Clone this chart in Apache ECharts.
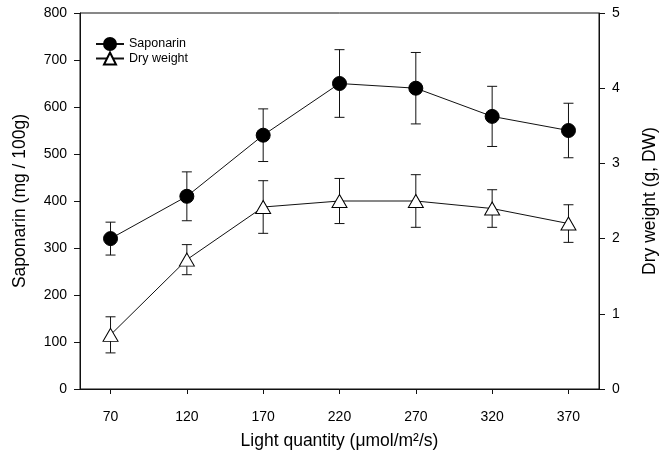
<!DOCTYPE html>
<html>
<head>
<meta charset="utf-8">
<script src="https://cdn.jsdelivr.net/npm/echarts@6/dist/echarts.min.js"></script>
<style>
  html, body { margin: 0; padding: 0; background: #fff; }
  #chart { width: 667px; height: 457px; }
</style>
</head>
<body>
<div id="chart"></div>
<script>
// 光照量 (x 轴)
var lightQty = [70, 120, 170, 220, 270, 320, 370];
// 左轴数据
var saponarin = [320, 410, 540, 650, 640, 580, 550];
var saponarinErr = [35, 52, 56, 72, 76, 64, 58];
// 右轴数据
var dryWeight = [0.72, 1.72, 2.42, 2.5, 2.5, 2.4, 2.2];
var dryWeightErr = [0.24, 0.2, 0.35, 0.3, 0.35, 0.25, 0.25];

var font = '"Liberation Sans", Arial, sans-serif';
var ink = '#111';

function pairs(ys) {
    return lightQty.map(function (x, i) { return [x, ys[i]]; });
}
function errRows(ys, es) {
    return lightQty.map(function (x, i) { return [x, ys[i] - es[i], ys[i] + es[i]]; });
}
// 误差线
function renderErr(params, api) {
    var lo = api.coord([api.value(0), api.value(1)]);
    var hi = api.coord([api.value(0), api.value(2)]);
    var w = 5;
    var st = { stroke: ink, lineWidth: 1 };
    return {
        type: 'group',
        children: [
            { type: 'line', shape: { x1: lo[0], y1: lo[1], x2: hi[0], y2: hi[1] }, style: st },
            { type: 'line', shape: { x1: lo[0] - w, y1: lo[1], x2: lo[0] + w, y2: lo[1] }, style: st },
            { type: 'line', shape: { x1: hi[0] - w, y1: hi[1], x2: hi[0] + w, y2: hi[1] }, style: st }
        ]
    };
}

var axisCommon = {
    axisLine: { show: true, lineStyle: { color: ink, width: 1 } },
    axisTick: { show: true, inside: false, length: 6, lineStyle: { color: ink } },
    splitLine: { show: false },
    nameLocation: 'middle',
    nameTextStyle: { fontFamily: font, fontSize: 17.5, color: '#000' }
};

var myChart = echarts.init(document.getElementById('chart'));
var option = {
    backgroundColor: '#fff',
    animation: false,
    grid: { left: 80, right: 65, top: 13, bottom: 68, show: true, borderColor: ink, borderWidth: 1 },
    legend: {
        orient: 'vertical',
        left: 95,
        top: 37,
        padding: 0,
        itemWidth: 28,
        itemHeight: 15,
        itemGap: 0.5,
        textStyle: { fontFamily: font, fontSize: 12.5, color: '#000' },
        data: ['Saponarin', 'Dry weight']
    },
    xAxis: Object.assign({}, axisCommon, {
        type: 'value',
        min: 50,
        max: 390,
        name: 'Light quantity (μmol/m²/s)',
        nameGap: 43,
        axisTick: { show: true, inside: false, length: 5, lineStyle: { color: ink }, customValues: lightQty },
        axisLabel: { customValues: lightQty, margin: 21, fontFamily: font, fontSize: 14, color: '#000' }
    }),
    yAxis: [
        Object.assign({}, axisCommon, {
            type: 'value',
            min: 0, max: 800, interval: 100,
            name: 'Saponarin (mg / 100g)',
            nameGap: 51,
            axisLabel: { margin: 13, fontFamily: font, fontSize: 14, color: '#000' }
        }),
        Object.assign({}, axisCommon, {
            type: 'value',
            position: 'right',
            min: 0, max: 5, interval: 1,
            name: 'Dry weight (g, DW)',
            nameGap: 42,
            axisLabel: { margin: 13, fontFamily: font, fontSize: 14, color: '#000' }
        })
    ],
    series: [
        {
            type: 'custom',
            yAxisIndex: 0,
            renderItem: renderErr,
            encode: { x: 0, y: [1, 2] },
            data: errRows(saponarin, saponarinErr),
            z: 1,
            silent: true
        },
        {
            type: 'custom',
            yAxisIndex: 1,
            renderItem: renderErr,
            encode: { x: 0, y: [1, 2] },
            data: errRows(dryWeight, dryWeightErr),
            z: 1,
            silent: true
        },
        {
            name: 'Saponarin',
            type: 'line',
            yAxisIndex: 0,
            data: pairs(saponarin),
            symbol: 'circle',
            symbolSize: 14,
            lineStyle: { color: ink, width: 1 },
            itemStyle: { color: '#000', borderColor: '#000', borderWidth: 1 },
            z: 3
        },
        {
            name: 'Dry weight',
            type: 'line',
            yAxisIndex: 1,
            data: pairs(dryWeight),
            symbol: 'triangle',
            symbolSize: [15, 13],
            lineStyle: { color: ink, width: 1 },
            itemStyle: { color: '#fff', borderColor: '#000', borderWidth: 1 },
            z: 3
        }
    ]
};
myChart.setOption(option);
</script>
</body>
</html>
